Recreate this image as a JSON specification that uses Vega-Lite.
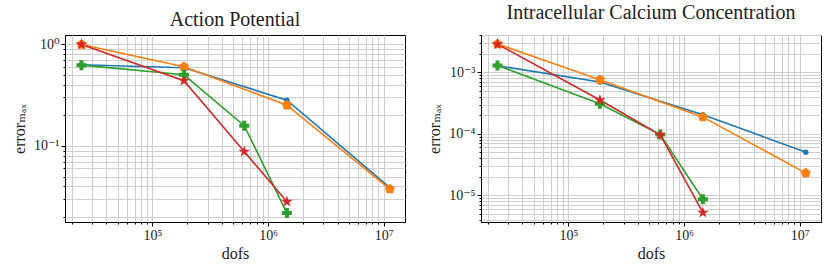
{
  "$schema": "https://vega.github.io/schema/vega-lite/v6.json",
  "padding": {"left": 10, "top": 2, "right": 8, "bottom": 5},
  "background": "white",
  "config": {
    "font": "Liberation Serif",
    "view": {"stroke": "black", "strokeWidth": 1},
    "title": {"font": "Liberation Serif", "fontSize": 20, "fontWeight": "normal", "color": "#222", "offset": 5, "frame": "group"},
    "axis": {
      "labelFont": "Liberation Serif, DejaVu Serif, serif", "labelFontSize": 14, "labelColor": "#222",
      "titleFont": "Liberation Serif, DejaVu Serif, serif", "titleFontSize": 16, "titleFontWeight": "normal", "titleColor": "#222",
      "domainColor": "black", "tickColor": "black",
      "gridColor": "#cfcfcf", "gridWidth": 1, "gridOpacity": 1,
      "labelOverlap": false, "labelBound": false, "labelFlush": false,
      "tickSize": {"condition": {"test": "abs(log(datum.value)/LN10 - round(log(datum.value)/LN10)) < 0.001", "value": 4}, "value": 2},
      "labelExpr": "abs(log(datum.value)/LN10 - round(log(datum.value)/LN10)) < 0.001 ? '10' + (round(log(datum.value)/LN10) < 0 ? '⁻' : '') + ['⁰','¹','²','³','⁴','⁵','⁶','⁷','⁸','⁹'][abs(round(log(datum.value)/LN10))] : ''"
    }
  },
  "datasets": {
    "errors": [
      {"panel": "AP", "series": "A", "dofs": 24300, "error": 0.626},
      {"panel": "AP", "series": "A", "dofs": 187000, "error": 0.585},
      {"panel": "AP", "series": "A", "dofs": 1455000, "error": 0.281},
      {"panel": "AP", "series": "A", "dofs": 11300000, "error": 0.0389},
      {"panel": "AP", "series": "B", "dofs": 24300, "error": 0.99},
      {"panel": "AP", "series": "B", "dofs": 187000, "error": 0.598},
      {"panel": "AP", "series": "B", "dofs": 1455000, "error": 0.251},
      {"panel": "AP", "series": "B", "dofs": 11300000, "error": 0.0377},
      {"panel": "AP", "series": "C", "dofs": 24300, "error": 0.62},
      {"panel": "AP", "series": "C", "dofs": 187000, "error": 0.499},
      {"panel": "AP", "series": "C", "dofs": 622000, "error": 0.158},
      {"panel": "AP", "series": "C", "dofs": 1455000, "error": 0.0219},
      {"panel": "AP", "series": "D", "dofs": 24300, "error": 0.99},
      {"panel": "AP", "series": "D", "dofs": 187000, "error": 0.436},
      {"panel": "AP", "series": "D", "dofs": 622000, "error": 0.0879},
      {"panel": "AP", "series": "D", "dofs": 1455000, "error": 0.0283},
      {"panel": "Ca", "series": "A", "dofs": 24300, "error": 0.001285},
      {"panel": "Ca", "series": "A", "dofs": 187000, "error": 0.000697},
      {"panel": "Ca", "series": "A", "dofs": 1455000, "error": 0.000204},
      {"panel": "Ca", "series": "A", "dofs": 11300000, "error": 0.0000503},
      {"panel": "Ca", "series": "B", "dofs": 24300, "error": 0.0029},
      {"panel": "Ca", "series": "B", "dofs": 187000, "error": 0.00076},
      {"panel": "Ca", "series": "B", "dofs": 1455000, "error": 0.000187},
      {"panel": "Ca", "series": "B", "dofs": 11300000, "error": 0.0000229},
      {"panel": "Ca", "series": "C", "dofs": 24300, "error": 0.0013},
      {"panel": "Ca", "series": "C", "dofs": 187000, "error": 0.000309},
      {"panel": "Ca", "series": "C", "dofs": 622000, "error": 0.000097},
      {"panel": "Ca", "series": "C", "dofs": 1455000, "error": 0.0000086},
      {"panel": "Ca", "series": "D", "dofs": 24300, "error": 0.00288},
      {"panel": "Ca", "series": "D", "dofs": 187000, "error": 0.000355},
      {"panel": "Ca", "series": "D", "dofs": 622000, "error": 0.000096},
      {"panel": "Ca", "series": "D", "dofs": 1455000, "error": 0.0000052}
    ]
  },
  "spacing": 20,
  "hconcat": [
    {
      "title": "Action Potential",
      "width": 340, "height": 187,
      "data": {"name": "errors"},
      "transform": [{"filter": "datum.panel === 'AP'"}],
      "encoding": {
        "x": {"field": "dofs", "type": "quantitative",
          "scale": {"type": "log", "domain": [17500, 15300000], "nice": false},
          "axis": {"title": "dofs", "grid": true, "titlePadding": 3,
            "values": [20000,30000,40000,50000,60000,70000,80000,90000,100000,200000,300000,400000,500000,600000,700000,800000,900000,1000000,2000000,3000000,4000000,5000000,6000000,7000000,8000000,9000000,10000000]}},
        "y": {"field": "error", "type": "quantitative",
          "scale": {"type": "log", "domain": [0.0179, 1.226], "nice": false},
          "axis": {"title": "errorₘₐₓ", "grid": true, "titlePadding": 6,
            "values": [0.02,0.03,0.04,0.05,0.06,0.07,0.08,0.09,0.1,0.2,0.3,0.4,0.5,0.6,0.7,0.8,0.9,1]}},
        "color": {"field": "series", "type": "nominal", "legend": null,
          "scale": {"domain": ["A","B","C","D"], "range": ["#1f77b4","#ff7f0e","#2ca02c","#d62728"]}}
      },
      "layer": [
        {"mark": {"type": "line", "strokeWidth": 1.6, "clip": true}, "encoding": {}},
        {"mark": {"type": "point", "filled": true, "opacity": 1, "clip": false},
          "encoding": {
            "shape": {"field": "series", "type": "nominal", "legend": null,
              "scale": {"domain": ["A","B","C","D"], "range": ["circle", "M0,-1L0.951,-0.309L0.588,0.809L-0.588,0.809L-0.951,-0.309Z", "cross", "M0,-1L0.2245,-0.309L0.951,-0.309L0.363,0.118L0.588,0.809L0,0.382L-0.588,0.809L-0.363,0.118L-0.951,-0.309L-0.2245,-0.309Z"]}},
            "size": {"field": "series", "type": "nominal", "legend": null,
              "scale": {"type": "ordinal", "domain": ["A","B","C","D"], "range": [30, 110, 100, 150]}}
          }}
      ]
    },
    {
      "title": "Intracellular Calcium Concentration",
      "width": 340, "height": 187,
      "data": {"name": "errors"},
      "transform": [{"filter": "datum.panel === 'Ca'"}],
      "encoding": {
        "x": {"field": "dofs", "type": "quantitative",
          "scale": {"type": "log", "domain": [17500, 15300000], "nice": false},
          "axis": {"title": "dofs", "grid": true, "titlePadding": 3,
            "values": [20000,30000,40000,50000,60000,70000,80000,90000,100000,200000,300000,400000,500000,600000,700000,800000,900000,1000000,2000000,3000000,4000000,5000000,6000000,7000000,8000000,9000000,10000000]}},
        "y": {"field": "error", "type": "quantitative",
          "scale": {"type": "log", "domain": [0.00000366, 0.00407], "nice": false},
          "axis": {"title": "errorₘₐₓ", "grid": true, "titlePadding": 6,
            "values": [0.000004,0.000005,0.000006,0.000007,0.000008,0.000009,0.00001,0.00002,0.00003,0.00004,0.00005,0.00006,0.00007,0.00008,0.00009,0.0001,0.0002,0.0003,0.0004,0.0005,0.0006,0.0007,0.0008,0.0009,0.001,0.002,0.003,0.004]}},
        "color": {"field": "series", "type": "nominal", "legend": null,
          "scale": {"domain": ["A","B","C","D"], "range": ["#1f77b4","#ff7f0e","#2ca02c","#d62728"]}}
      },
      "layer": [
        {"mark": {"type": "line", "strokeWidth": 1.6, "clip": true}, "encoding": {}},
        {"mark": {"type": "point", "filled": true, "opacity": 1, "clip": false},
          "encoding": {
            "shape": {"field": "series", "type": "nominal", "legend": null,
              "scale": {"domain": ["A","B","C","D"], "range": ["circle", "M0,-1L0.951,-0.309L0.588,0.809L-0.588,0.809L-0.951,-0.309Z", "cross", "M0,-1L0.2245,-0.309L0.951,-0.309L0.363,0.118L0.588,0.809L0,0.382L-0.588,0.809L-0.363,0.118L-0.951,-0.309L-0.2245,-0.309Z"]}},
            "size": {"field": "series", "type": "nominal", "legend": null,
              "scale": {"type": "ordinal", "domain": ["A","B","C","D"], "range": [30, 110, 100, 150]}}
          }}
      ]
    }
  ]
}
